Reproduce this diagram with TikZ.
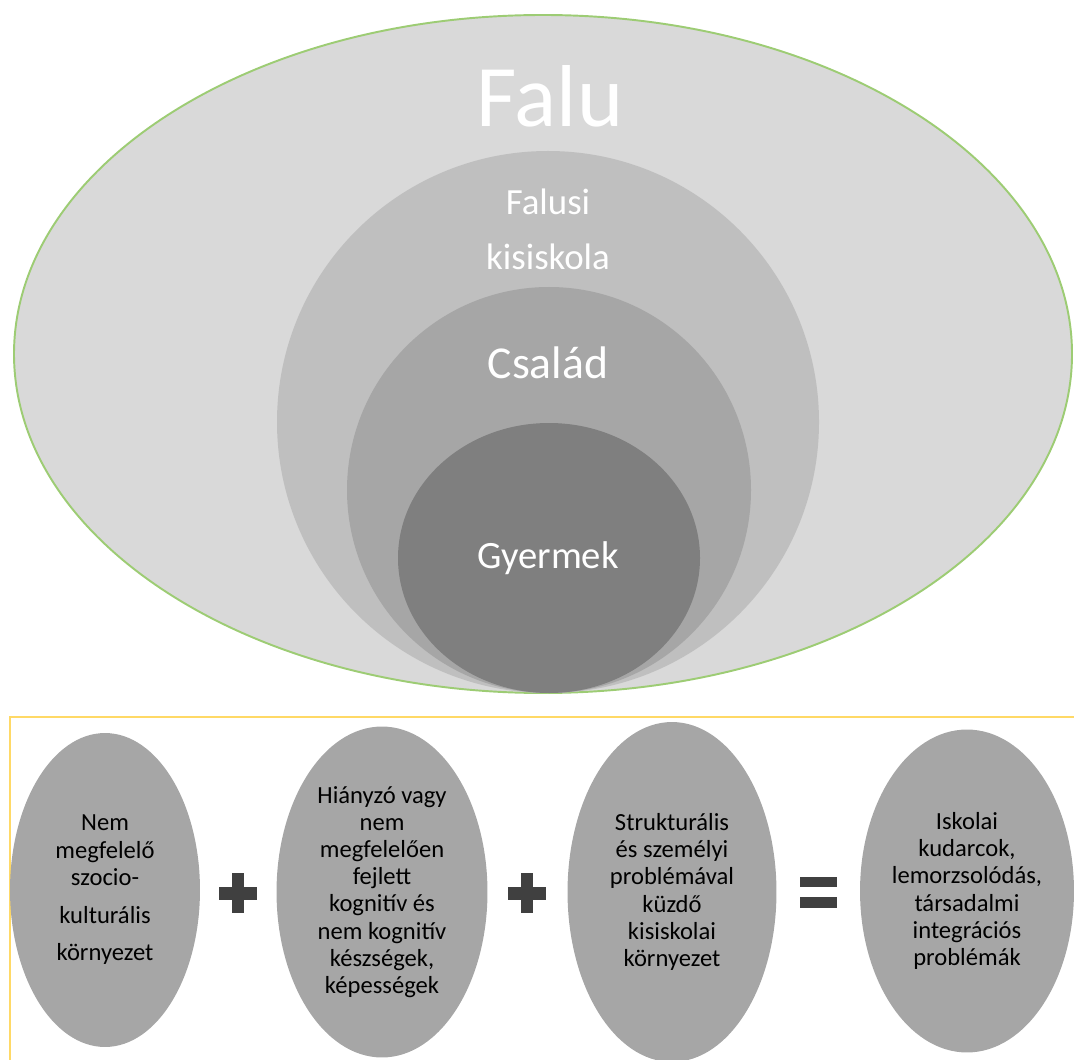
\documentclass[tikz,border=0pt]{standalone}
\usepackage{fontspec}
\setmainfont{Carlito}
\usetikzlibrary{shapes.geometric}

\definecolor{ringA}{HTML}{D9D9D9}
\definecolor{ringB}{HTML}{BFBFBF}
\definecolor{ringC}{HTML}{A6A6A6}
\definecolor{ringD}{HTML}{7F7F7F}
\definecolor{faluline}{HTML}{9DCC74}
\definecolor{frameyellow}{HTML}{FFD966}
\definecolor{signgray}{HTML}{404040}

\tikzset{
  ringlabel/.style = {text = white, anchor = base, align = center},
  cause/.style = {ellipse, fill = ringC, inner sep = 0pt, align = center,
                  font = \fontsize{14}{15.5}\selectfont},
}

\begin{document}
\begin{tikzpicture}[x = 0.02cm, y = -0.02cm]
	 \useasboundingbox (0, 0) rectangle (1074, 1060);

	 % nested rings
	 \draw[faluline, line width = 1.1pt, fill = ringA] (543, 354) ellipse [x radius = 529, y radius = 339];
	 \fill[ringB] (548, 422) ellipse [x radius = 271, y radius = 271];
	 \fill[ringC] (549, 490) ellipse [x radius = 202, y radius = 203];
	 \fill[ringD] (549, 558) ellipse [x radius = 151, y radius = 135];

	 \node[ringlabel, font = \fontsize{50}{50}\selectfont] (falu) at (550, 127) {Falu};
	 \node[ringlabel, font = \fontsize{21}{31.7}\selectfont] (iskola) at (548, 270) {Falusi\\kisiskola};
	 \node[ringlabel, font = \fontsize{26}{30}\selectfont] (csalad) at (548, 378) {Család};
	 \node[ringlabel, font = \fontsize{22}{26}\selectfont] (gyermek) at (548, 568) {Gyermek};

	 % lower frame
	 \draw[frameyellow, line width = 1.6pt] (1090, 717) -- (10, 717) -- (10, 1075);

	 \node[cause, minimum width = 3.8cm, minimum height = 6.28cm] (kornyezet) at (105, 890)
	   {Nem\\megfelelő\\szocio-\\[6pt]kulturális\\[6pt]környezet};
	 \node[cause, minimum width = 4.22cm, minimum height = 6.62cm] (keszseg) at (382, 892)
	   {Hiányzó vagy\\nem\\megfelelően\\fejlett\\kognitív és\\nem kognitív\\készségek,\\képességek};
	 \node[cause, minimum width = 4.18cm, minimum height = 6.8cm] (kisiskola) at (672, 892)
	   {Strukturális\\és személyi\\problémával\\küzdő\\kisiskolai\\környezet};
	 \node[cause, minimum width = 4.28cm, minimum height = 6.46cm] (kudarc) at (967, 891)
	   {Iskolai\\kudarcok,\\lemorzsolódás,\\társadalmi\\integrációs\\problémák};

	 % signs
	 \foreach \x in {238, 527} {
	   \fill[signgray] (\x - 19, 887) rectangle (\x + 19, 900);
	   \fill[signgray] (\x - 6, 873) rectangle (\x + 6, 913);
	 }
	 \fill[signgray] (800, 877) rectangle (837, 887);
	 \fill[signgray] (800, 897) rectangle (837, 908);
\end{tikzpicture}
\end{document}
